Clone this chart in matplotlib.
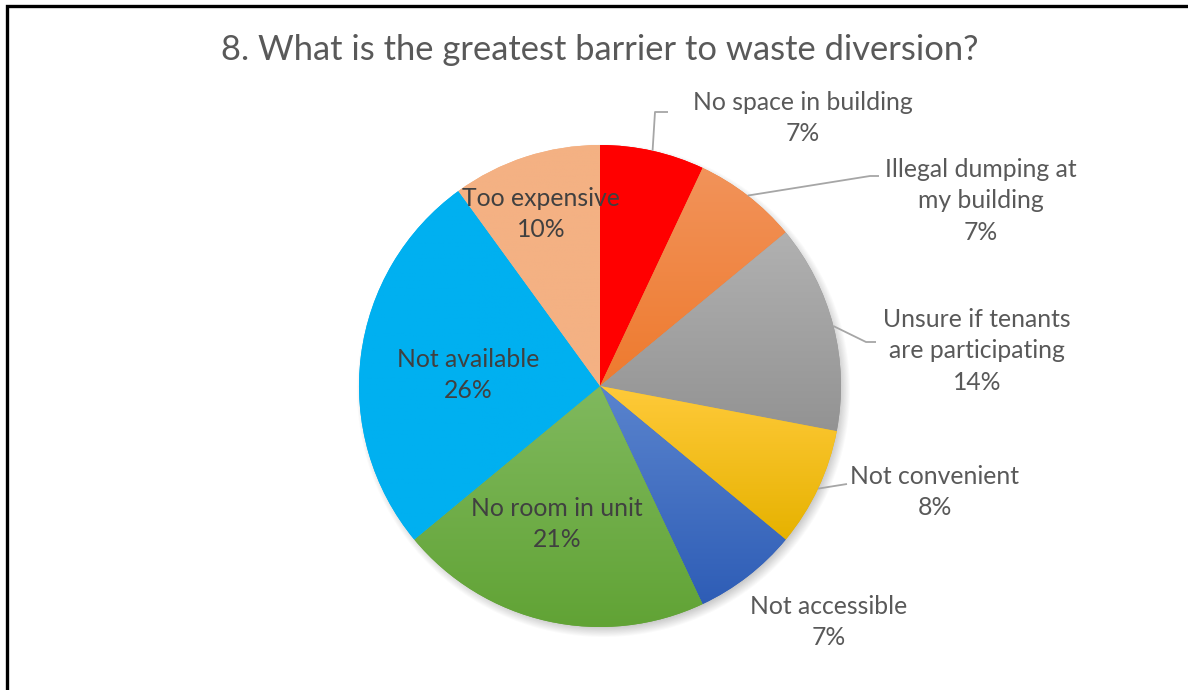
import numpy as np
import matplotlib
matplotlib.use("Agg")
import matplotlib.pyplot as plt
from matplotlib.colors import LinearSegmentedColormap

plt.rcParams['font.family'] = ['Lato', 'DejaVu Sans']

title = "8. What is the greatest barrier to waste diversion?"
labels = ["No space in building", "Illegal dumping at\nmy building",
          "Unsure if tenants\nare participating", "Not convenient",
          "Not accessible", "No room in unit", "Not available", "Too expensive"]
values = [7, 7, 14, 8, 7, 21, 26, 10]
# top / bottom colour of each slice's gradient fill
top_colors = ["#FF0000", "#F2935A", "#B1B1B1", "#FFCA3A", "#5A84CE", "#80B95E", "#00B0F0", "#F4B183"]
bottom_colors = ["#FF0000", "#EE7A2E", "#939393", "#E6B200", "#2E5DB6", "#61A335", "#00B0F0", "#F4B183"]

W, H = 1188, 690
cx, cy, R = 600, H - 386, 241

fig = plt.figure(figsize=(W / 100, H / 100), dpi=100)
ax = fig.add_axes([0, 0, 1, 1])

# soft drop shadow under the pie
yy, xx = np.mgrid[0:H, 0:W]
d = np.hypot(xx - (cx + 3), (H - yy) - (cy - 4))
alpha = np.clip((R + 6 - d) / 12, 0, 1) * 0.35
shadow = np.zeros((H, W, 4))
shadow[..., :3] = 0.35
shadow[..., 3] = alpha
ax.imshow(shadow, extent=[0, W, 0, H], origin="upper", zorder=0)

wedges, _ = ax.pie(values, startangle=90, counterclock=False,
                   center=(cx, cy), radius=R,
                   wedgeprops=dict(linewidth=0, edgecolor="none"))

grad = np.linspace(0, 1, 256).reshape(-1, 1)
for w, c0, c1 in zip(wedges, top_colors, bottom_colors):
    w.set_facecolor(c1)
    w.set_zorder(1)
    ext = w.get_path().get_extents()
    cmap = LinearSegmentedColormap.from_list("g", [c0, c1])
    im = ax.imshow(grad, cmap=cmap, aspect="auto", origin="upper",
                   extent=[ext.x0, ext.x1, ext.y0, ext.y1], zorder=2)
    im.set_clip_path(w)

ax.set_xlim(0, W)
ax.set_ylim(0, H)
ax.set_aspect("equal")
ax.axis("off")

# label positions (pixel coords, y from the top)
label_pos = [(803, 118), (981, 201), (977, 351), (935, 492),
             (829, 622), (557, 524), (468, 375), (541, 214)]
inside = [False, False, False, False, False, True, True, True]
for lab, v, (px, py), ins in zip(labels, values, label_pos, inside):
    ax.text(px, H - py, f"{lab}\n{v}%", ha="center", va="center",
            fontsize=17.8, color="#404040" if ins else "#595959",
            linespacing=1.45, zorder=5)

# leader lines: start on the rim at the middle of the slice
leaders = {0: [(655, 112), (668, 112)],
           1: [(870, 176), (879, 176)],
           2: [(866, 342), (876, 342)],
           3: [(847, 484)]}
for i, pts in leaders.items():
    w = wedges[i]
    mid = np.deg2rad((w.theta1 + w.theta2) / 2)
    xs = [cx + R * np.cos(mid)] + [p[0] for p in pts]
    ys = [cy + R * np.sin(mid)] + [H - p[1] for p in pts]
    ax.plot(xs, ys, color="#A6A6A6", lw=1.3, zorder=4, solid_capstyle="butt")

ax.text(600, H - 50, title, ha="center", va="center", fontsize=24.8, color="#595959")

# outer frame (left and top edges)
ax.plot([7, 7, W], [0, H - 6, H - 6], color="black", lw=2.4, zorder=6,
        solid_joinstyle="miter")

fig.savefig("out.png", dpi=100)
